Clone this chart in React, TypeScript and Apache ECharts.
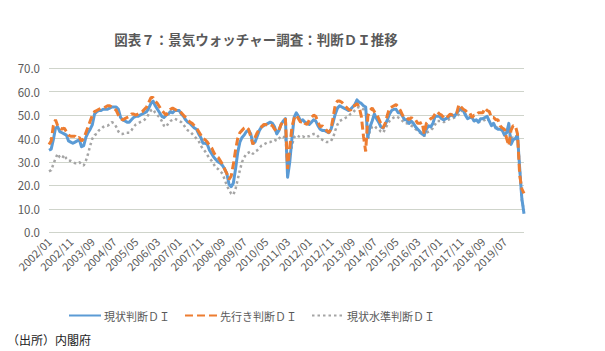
import React, { useEffect, useRef } from "react";
import * as echarts from "echarts";

const startYear = 2002;
const endYear = 2020;
const endMonth = 4;

const months: string[] = [];
for (let y = startYear; y <= endYear; y++) {
  for (let m = 1; m <= 12; m++) {
    if (y === endYear && m > endMonth) break;
    months.push(`${y}/${m < 10 ? "0" + m : m}`);
  }
}

const yTicks = [0, 10, 20, 30, 40, 50, 60, 70];

// 現状判断ＤＩ
const currentDI = [
  35.0, 35.5, 39.5, 44.5, 45.0, 43.0, 42.5, 42.0, 41.5, 39.0, 38.5, 38.0,
  38.5, 39.0, 39.5, 36.5, 37.0, 40.5, 42.5, 44.0, 46.0, 50.5, 51.5, 52.0,
  52.0, 52.5, 52.5, 52.5, 53.0, 53.5, 53.5, 53.5, 52.5, 49.0, 48.0, 47.5,
  47.0, 47.0, 48.0, 49.0, 49.5, 49.5, 50.0, 50.5, 51.0, 51.5, 53.0, 55.0,
  56.0, 54.0, 52.5, 51.0, 49.5, 49.0, 50.0, 50.5, 51.5, 51.0, 52.0, 52.0,
  52.0, 50.5, 49.5, 48.0, 47.0, 46.5, 45.5, 44.5, 44.0, 42.0, 40.5, 38.0,
  38.0, 37.5, 35.0, 33.5, 32.0, 31.0, 30.0, 29.5, 28.5, 27.0, 25.0, 20.5,
  19.5, 21.0, 27.0, 34.0, 38.5, 40.5, 41.5, 43.0, 43.5, 42.0, 38.0, 38.5,
  41.0, 43.5, 45.0, 45.5, 46.0, 46.5, 47.0, 46.5, 45.0, 42.0, 43.5, 46.0,
  47.5, 48.5, 23.5, 30.0, 40.0, 49.0, 51.0, 49.5, 47.5, 48.0, 47.0, 46.5,
  46.0, 47.0, 48.0, 47.5, 45.5, 44.0, 43.5, 43.5, 43.0, 42.5, 44.0, 47.0,
  50.5, 53.0, 54.0, 53.5, 53.0, 52.5, 52.0, 52.5, 53.5, 54.5, 56.5, 55.5,
  55.0, 54.0, 53.5, 40.5, 45.0, 47.5, 50.5, 48.5, 47.0, 45.0, 44.5, 46.0,
  48.0, 50.5, 52.0, 52.5, 52.5, 51.0, 51.0, 49.5, 48.0, 48.0, 46.5, 47.5,
  46.5, 45.0, 44.0, 43.0, 42.0, 41.5, 44.0, 45.5, 45.0, 46.5, 49.5, 49.5,
  49.5, 48.5, 48.0, 48.5, 49.0, 50.0, 50.0, 49.5, 51.0, 52.0, 53.0, 52.0,
  50.0, 48.5, 49.0, 49.0, 47.5, 48.0, 47.0, 48.5, 48.5, 49.0, 49.5, 47.5,
  45.5, 46.5, 44.5, 44.0, 44.0, 43.5, 41.5, 42.5, 46.5, 37.5, 39.5, 40.0,
  41.5, 27.5, 14.5, 7.9,
];

// 先行き判断ＤＩ
const outlookDI = [
  37.5, 39.0, 45.5, 48.0, 45.5, 44.5, 44.0, 44.5, 43.0, 41.5, 41.0, 41.0,
  41.0, 40.0, 40.5, 39.0, 40.0, 42.5, 45.0, 47.5, 50.0, 51.5, 52.0, 52.5,
  53.0, 53.0, 53.5, 54.0, 54.0, 53.5, 53.0, 52.0, 50.0, 48.5, 48.0, 48.5,
  49.0, 49.5, 50.5, 50.5, 50.0, 50.5, 51.0, 51.5, 52.5, 53.5, 55.5, 57.5,
  57.5, 56.0, 55.0, 53.5, 52.0, 51.0, 50.0, 51.5, 52.5, 53.0, 52.5, 52.0,
  52.0, 51.0, 50.0, 49.0, 48.0, 47.0, 46.5, 45.5, 44.5, 43.0, 41.5, 40.0,
  39.5, 38.5, 37.0, 36.0, 34.0, 32.5, 32.0, 30.5, 29.0, 27.0, 25.0, 22.5,
  24.0, 29.0, 35.0, 40.0, 42.5, 43.5, 44.5, 45.0, 44.0, 41.0, 37.5, 40.5,
  42.5, 44.0, 45.0, 46.0, 46.0, 45.5, 46.0, 45.5, 44.0, 43.0, 43.5, 46.0,
  47.5, 48.5, 27.0, 36.0, 45.0, 48.5, 50.0, 48.5, 47.0, 47.5, 46.5, 46.0,
  48.0, 49.0, 50.0, 49.5, 47.0, 45.0, 45.5, 44.5, 43.5, 42.5, 44.0, 49.0,
  54.5, 56.0, 56.0, 55.5, 54.5, 53.5, 52.5, 52.0, 54.0, 54.0, 55.0, 53.5,
  49.5, 41.0, 34.5, 49.5, 52.0, 53.0, 51.5, 50.5, 48.5, 46.5, 44.5, 46.5,
  50.0, 53.0, 53.5, 54.0, 54.5, 53.5, 52.0, 50.0, 49.0, 49.0, 48.0, 49.0,
  48.0, 48.0, 46.5, 46.5, 47.0, 42.0, 46.5, 47.5, 48.5, 49.0, 50.5, 51.5,
  50.5, 50.0, 49.0, 48.5, 49.5, 50.5, 50.0, 51.0, 51.0, 54.5, 53.5, 52.5,
  52.0, 51.0, 51.0, 49.0, 50.0, 50.0, 51.0, 51.0, 51.0, 53.0, 52.0, 51.5,
  49.0, 49.0, 48.0, 48.0, 45.5, 44.5, 44.0, 40.0, 37.0, 43.5, 45.5, 45.5,
  42.0, 24.5, 18.5, 16.6,
];

// 現状水準判断ＤＩ
const levelDI = [
  26.0, 26.5, 29.0, 31.5, 33.5, 32.0, 31.5, 33.0, 31.5, 30.5, 30.5, 30.0,
  29.5, 29.5, 30.0, 29.0, 28.5, 30.5, 33.5, 37.0, 40.0, 41.5, 42.0, 43.5,
  44.0, 45.0, 45.5, 45.5, 46.0, 47.0, 46.5, 45.0, 43.0, 42.0, 42.0, 42.5,
  42.5, 42.5, 43.5, 45.0, 46.0, 46.5, 47.0, 47.5, 48.0, 49.0, 50.5, 52.0,
  52.5, 51.0, 50.0, 49.0, 47.5, 45.5, 45.0, 46.5, 47.5, 48.0, 48.5, 48.0,
  47.5, 47.0, 46.0, 44.5, 43.5, 43.0, 42.0, 41.0, 40.0, 39.0, 37.0, 35.5,
  34.5, 33.0, 31.5, 30.5, 29.0, 27.5, 27.0, 26.0, 25.0, 22.5, 20.0, 18.0,
  16.5, 16.0, 18.5, 22.5, 26.5, 30.0, 32.0, 33.5, 34.0, 34.5, 33.5, 34.5,
  35.0, 36.0, 37.0, 37.5, 38.0, 38.5, 38.5, 39.0, 39.5, 39.0, 40.0, 41.0,
  40.5, 41.0, 28.5, 32.0, 37.0, 40.5, 41.5, 41.0, 40.5, 41.0, 40.5, 41.0,
  41.0, 41.5, 42.0, 42.0, 41.0, 40.0, 39.5, 39.0, 38.5, 38.5, 39.0, 40.5,
  43.5, 46.0, 47.5, 48.0, 48.5, 49.0, 49.5, 50.5, 51.0, 52.0, 53.0, 53.5,
  53.0, 52.5, 53.5, 39.5, 43.5, 45.0, 45.5, 44.5, 44.0, 43.0, 42.5, 44.0,
  46.0, 47.5, 48.5, 49.0, 49.5, 49.0, 48.5, 47.5, 46.5, 46.5, 46.0, 45.5,
  45.0, 44.0, 43.5, 42.5, 42.0, 41.0, 42.5, 43.0, 43.5, 44.5, 46.0, 47.5,
  47.5, 47.5, 47.0, 47.5, 48.0, 48.5, 48.5, 49.0, 49.5, 50.5, 52.0, 51.5,
  50.5, 49.5, 49.0, 48.5, 47.5, 47.5, 47.0, 47.5, 47.5, 48.0, 48.5, 47.5,
  46.5, 46.0, 45.0, 44.5, 44.0, 43.5, 42.5, 42.5, 45.0, 39.5, 40.5, 40.5,
  41.5, 28.0, 13.5, 9.5,
];

const seriesNames = ["現状判断ＤＩ", "先行き判断ＤＩ", "現状水準判断ＤＩ"];
const titleText = "図表７：景気ウォッチャー調査：判断ＤＩ推移";
const sourceText = "（出所）内閣府";

const FONT = '"Noto Sans CJK JP", "Noto Sans", sans-serif';

export default function App() {
  const ref = useRef<HTMLDivElement>(null);
  useEffect(() => {
    document.body.style.margin = "0";
    const chart = echarts.init(ref.current!, null, { renderer: "svg" });
    chart.setOption({
      animation: false,
      backgroundColor: "#ffffff",
      textStyle: { fontFamily: FONT },
      grid: { left: 49, right: 81, top: 68.3, bottom: 118.7, containLabel: false },
      xAxis: {
        type: "category",
        data: months,
        boundaryGap: false,
        axisLine: { show: false },
        axisTick: { show: false },
        splitLine: { show: false },
        axisLabel: {
          interval: 9,
          rotate: 45,
          margin: 7,
          color: "#595959",
          fontSize: 11,
          fontFamily: FONT,
        },
      },
      yAxis: {
        type: "value",
        min: yTicks[0],
        max: yTicks[yTicks.length - 1],
        interval: 10,
        axisLine: { show: false },
        axisTick: { show: false },
        splitLine: { lineStyle: { color: "#cfd4cb", width: 1 } },
        axisLabel: {
          color: "#595959",
          fontSize: 11.5,
          margin: 9,
          fontFamily: FONT,
          formatter: (v: number) => v.toFixed(1),
        },
      },
      legend: {
        left: 63,
        top: 305,
        itemWidth: 32,
        itemHeight: 10,
        itemGap: 14,
        itemStyle: { opacity: 0, borderWidth: 0 },
        textStyle: { color: "#595959", fontSize: 11, fontFamily: FONT, padding: [0, 0, 0, -2] },
        data: seriesNames,
      },
      graphic: [
        {
          type: "text",
          x: 256,
          y: 39,
          style: {
            text: titleText,
            textAlign: "center",
            textVerticalAlign: "middle",
            fill: "#595959",
            font: `bold 13.5px ${FONT}`,
          },
        },
        {
          type: "text",
          x: 7,
          y: 339,
          style: {
            text: sourceText,
            textAlign: "left",
            textVerticalAlign: "middle",
            fill: "#222222",
            font: `12px ${FONT}`,
          },
        },
      ],
      series: [
        {
          name: seriesNames[0],
          type: "line",
          data: currentDI,
          symbol: "none",
          z: 3,
          lineStyle: { color: "#5b9bd5", width: 3, join: "round" },
          itemStyle: { color: "#5b9bd5" },
        },
        {
          name: seriesNames[1],
          type: "line",
          data: outlookDI,
          symbol: "none",
          z: 4,
          lineStyle: { color: "#ed7d31", width: 3, type: [8, 4] },
          itemStyle: { color: "#ed7d31" },
        },
        {
          name: seriesNames[2],
          type: "line",
          data: levelDI,
          symbol: "none",
          z: 2,
          lineStyle: { color: "#a5a5a5", width: 2.5, type: [2.5, 3] },
          itemStyle: { color: "#a5a5a5" },
        },
      ],
    });
    return () => chart.dispose();
  }, []);
  return <div ref={ref} style={{ width: 605, height: 351 }} />;
}
